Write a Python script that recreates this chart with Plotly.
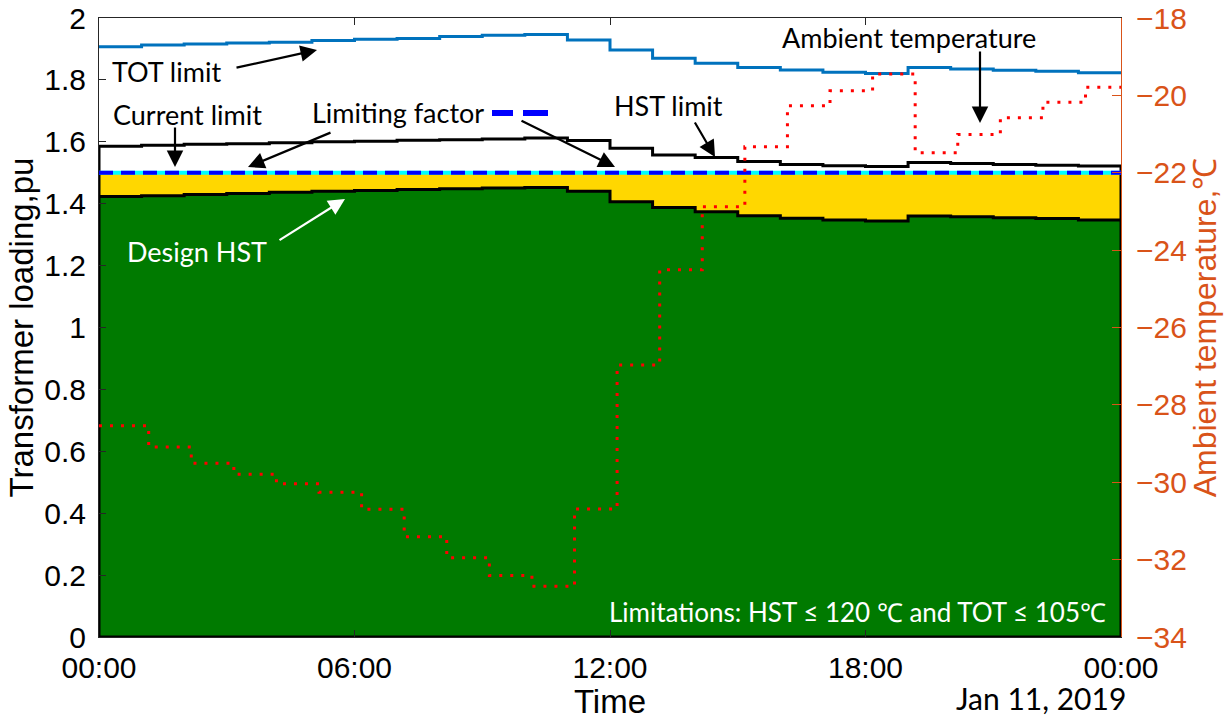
import plotly.graph_objects as go

# ---------------- data ----------------
hours = [f"2019-01-11 {h:02d}:00" for h in range(24)] + ["2019-01-12 00:00"]
temp_times = ["2019-01-11 00:00"] + [f"2019-01-11 {h:02d}:10" for h in range(1, 24)] + ["2019-01-12 00:00"]

tot_limit = [1.907, 1.913, 1.916, 1.919, 1.922, 1.927, 1.931, 1.934, 1.940, 1.944, 1.947, 1.929,
             1.897, 1.870, 1.854, 1.840, 1.832, 1.825, 1.821, 1.840, 1.835, 1.831, 1.828, 1.823]
hst_limit = [1.586, 1.589, 1.592, 1.594, 1.597, 1.600, 1.602, 1.605, 1.607, 1.609, 1.612, 1.604,
             1.579, 1.557, 1.549, 1.536, 1.527, 1.523, 1.520, 1.533, 1.530, 1.527, 1.524, 1.522]
design_hst = [1.423, 1.426, 1.430, 1.433, 1.437, 1.440, 1.443, 1.446, 1.448, 1.451, 1.452, 1.440,
              1.406, 1.388, 1.374, 1.361, 1.353, 1.347, 1.344, 1.360, 1.358, 1.355, 1.352, 1.347]
current_limit = 1.5
ambient_temp = [-28.54, -29.09, -29.51, -29.79, -30.04, -30.26, -30.70, -31.41, -31.95, -32.41, -32.69, -30.69,
                -26.97, -24.51, -22.88, -21.33, -20.27, -19.88, -19.45, -21.48, -21.01, -20.58, -20.18, -19.79]

x_tickvals = ["2019-01-11 00:00", "2019-01-11 06:00", "2019-01-11 12:00", "2019-01-11 18:00", "2019-01-12 00:00"]
x_ticktext = ["00:00", "06:00", "12:00", "18:00", "00:00"]

# ---------------- figure ----------------
W, H = 1226, 720
L, R, T, B = 99, 1121, 18, 637


def pxx(x):
    return (x - L) / (R - L)


def pxy(y):
    return (B - y) / (B - T)


t0, t1 = hours[0], hours[-1]
fig = go.Figure()

# yellow band up to current limit
fig.add_trace(go.Scatter(x=[t0, t0, t1, t1], y=[0, current_limit, current_limit, 0],
                         fill="toself", fillcolor="#FFD700", line=dict(width=0),
                         mode="lines", hoverinfo="skip", showlegend=False))
# HST limit outline
fig.add_trace(go.Scatter(x=[t0] + hours + [t1], y=[0] + hst_limit + [hst_limit[-1], 0],
                         mode="lines", line=dict(color="black", width=3, shape="hv"),
                         showlegend=False))
# design HST (green)
fig.add_trace(go.Scatter(x=[t0] + hours + [t1, t0], y=[0] + design_hst + [design_hst[-1], 0, 0],
                         fill="toself", fillcolor="#007A00", mode="lines",
                         line=dict(color="black", width=3, shape="hv"), showlegend=False))
# current limit (cyan + blue dashed)
fig.add_trace(go.Scatter(x=[t0, t1], y=[current_limit, current_limit], mode="lines",
                         line=dict(color="#00FFFF", width=4), showlegend=False))
fig.add_trace(go.Scatter(x=[t0, t1], y=[current_limit, current_limit], mode="lines",
                         line=dict(color="#0000FF", width=4, dash="14px,8px"), showlegend=False))
# TOT limit
fig.add_trace(go.Scatter(x=hours, y=tot_limit + [tot_limit[-1]], mode="lines",
                         line=dict(color="#0072BD", width=3, shape="hv"), showlegend=False))
# ambient temperature
fig.add_trace(go.Scatter(x=temp_times, y=ambient_temp + [ambient_temp[-1]], mode="lines", yaxis="y2",
                         line=dict(color="#FF0000", width=3, shape="hv", dash="3px,8px"),
                         showlegend=False))

axis_col = "#262626"
orange = "#D95319"
tickfont = dict(family="Liberation Sans, Arial", size=30, color="black")
titlefont = dict(family="Liberation Sans, Arial", size=33, color="black")

fig.update_layout(
    width=W, height=H,
    margin=dict(l=L, r=W - R, t=T, b=H - B, autoexpand=False),
    paper_bgcolor="white", plot_bgcolor="white",
    xaxis=dict(type="date", range=[t0, t1], tickvals=x_tickvals, ticktext=x_ticktext,
               ticks="inside", ticklen=7, tickcolor=axis_col, showline=True, linecolor=axis_col,
               linewidth=1, mirror="ticks", showgrid=False, zeroline=False, tickfont=tickfont,
               ticklabelstandoff=4,
               title=dict(text="Time", font=titlefont, standoff=0)),
    yaxis=dict(range=[0, 2], dtick=0.2, ticks="inside", ticklen=7, tickcolor=axis_col,
               showline=True, linecolor=axis_col, linewidth=1, showgrid=False, zeroline=False,
               tickfont=tickfont, ticklabelstandoff=6,
               title=dict(text="Transformer loading,pu", font=titlefont, standoff=0)),
    yaxis2=dict(range=[-34, -18], dtick=2, overlaying="y", side="right", ticks="inside", ticklen=9,
                tickcolor=orange, showline=True, linecolor=orange, linewidth=1, showgrid=False,
                zeroline=False, tickfont=dict(family="Liberation Sans, Arial", size=30, color=orange),
                ticklabelstandoff=8,
                title=dict(text="Ambient temperature,℃",
                           font=dict(family="Liberation Sans, Arial", size=32, color=orange), standoff=6)),
)

texts = [
    ("TOT limit", 166, 71, "black"),
    ("Current limit", 187, 114, "black"),
    ("Limiting factor", 398, 112, "black"),
    ("HST limit", 668, 106, "black"),
    ("Ambient temperature", 909, 37, "black"),
    ("Design HST", 197, 251, "white"),
]
for txt, x, y, col in texts:
    fig.add_annotation(text=txt, xref="paper", yref="paper", x=pxx(x), y=pxy(y),
                       xanchor="center", yanchor="middle", showarrow=False,
                       font=dict(family="Lato", size=27, color=col))

fig.add_annotation(text="Limitations: HST ≤ 120 ℃ and TOT ≤ 105℃", xref="paper", yref="paper",
                   x=pxx(1108), y=pxy(612), xanchor="right", yanchor="middle", showarrow=False,
                   font=dict(family="Lato", size=26, color="white"))
fig.add_annotation(text="Jan 11, 2019", xref="paper", yref="paper", x=pxx(1128), y=pxy(698),
                   xanchor="right", yanchor="middle", showarrow=False,
                   font=dict(family="Lato", size=30, color="black"))

arrows = [
    (235, 68, 317, 50, "black"),
    (175, 126, 175, 167, "black"),
    (332, 132, 248, 167, "black"),
    (520, 120, 615, 167, "black"),
    (694, 121, 715, 157, "black"),
    (980, 50, 980, 123, "black"),
    (278, 241, 345, 199, "white"),
]
for tx, ty, hx, hy, col in arrows:
    fig.add_annotation(text="", xref="paper", yref="paper", x=pxx(hx), y=pxy(hy),
                       ax=tx - hx, ay=ty - hy, showarrow=True, arrowhead=2, arrowsize=1.5,
                       arrowwidth=2.2, arrowcolor=col, standoff=0, startstandoff=0)

# legend-like dash sample next to "Limiting factor"
for x0, x1 in [(492, 513), (523, 548)]:
    fig.add_shape(type="line", xref="paper", yref="paper", x0=pxx(x0), x1=pxx(x1),
                  y0=pxy(113), y1=pxy(113), line=dict(color="#0000FF", width=6))

fig.write_html("out.html", config={"displayModeBar": False},
               post_script="document.body.style.margin='0px';")
